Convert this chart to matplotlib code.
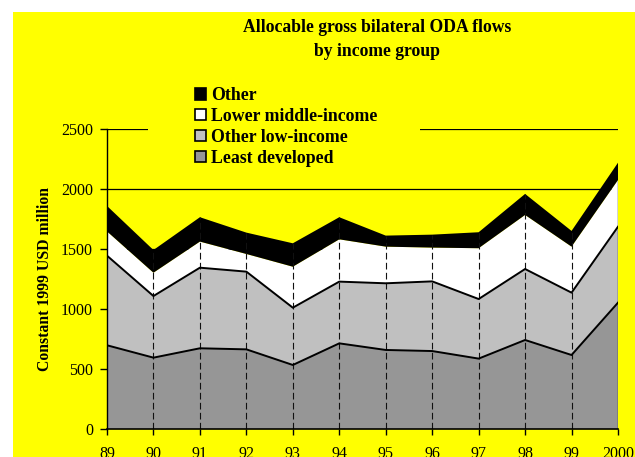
import matplotlib
matplotlib.use("Agg")
import matplotlib.pyplot as plt
from matplotlib.patches import Rectangle, Patch
import numpy as np

# Allocable gross bilateral ODA, constant 1999 USD million
years = ["89", "90", "91", "92", "93", "94", "95", "96", "97", "98", "99", "2000"]
least_developed = [697, 594, 672, 663, 533, 713, 658, 649, 586, 741, 616, 1052]
other_low_income = [746, 513, 671, 647, 477, 514, 555, 580, 496, 591, 519, 632]
lower_middle_income = [202, 194, 217, 147, 341, 352, 305, 281, 423, 450, 383, 389]
other = [212, 189, 203, 178, 195, 184, 92, 108, 133, 175, 131, 144]

series_labels = ["Least developed", "Other low-income", "Lower middle-income", "Other"]
series_colors = ["#969696", "#c0c0c0", "#ffffff", "#000000"]

YELLOW = "#ffff00"
SERIF = ["Liberation Serif", "DejaVu Serif"]

fig = plt.figure(figsize=(6.35, 4.57), dpi=100)
fig.patch.set_facecolor("white")
# yellow chart area
bg = Rectangle((13 / 635, 0), 1 - 13 / 635, 1 - 12 / 457,
               transform=fig.transFigure, facecolor=YELLOW,
               edgecolor="none", zorder=-10)
fig.add_artist(bg)

ax = fig.add_axes([107 / 635, 28 / 457, 511 / 635, 300.3 / 457])
ax.set_facecolor(YELLOW)
x = np.arange(len(years))

data = np.vstack([least_developed, other_low_income, lower_middle_income, other])
ax.stackplot(x, data, colors=series_colors, linewidth=0, zorder=2)

cum = np.cumsum(data, axis=0)
ax.plot(x, cum[0], color="black", lw=1.4, zorder=4)
ax.plot(x, cum[1], color="black", lw=1.4, zorder=4)

# drop lines from the total down to the axis
for i in x[1:-1]:
    ax.plot([i, i], [0, cum[3][i]], color="#111111", lw=0.8,
            dashes=(6, 3), zorder=3)
ax.plot([x[-1], x[-1]], [0, cum[2][-1]], color="#222222", lw=1.0, zorder=3)

ax.set_xlim(0, len(years) - 1)
ax.set_ylim(0, 2500)
ax.set_yticks(np.arange(0, 2501, 500))
ax.set_xticks(x)
ax.set_xticklabels(years)
ax.set_axisbelow(True)
ax.yaxis.grid(True, color="black", lw=0.9)
ax.xaxis.grid(False)

for side in ["top", "right"]:
    ax.spines[side].set_visible(False)
ax.spines["left"].set_linewidth(1.0)
ax.spines["bottom"].set_linewidth(1.2)
ax.spines["left"].set_zorder(5)
ax.spines["bottom"].set_zorder(5)

ax.tick_params(axis="y", direction="out", length=5, width=1, pad=5,
               labelsize=11.5)
ax.tick_params(axis="x", direction="out", length=4, width=1, pad=8,
               labelsize=11.5)
for lab in ax.get_xticklabels() + ax.get_yticklabels():
    lab.set_family(SERIF)

ax.set_ylabel("Constant 1999 USD million", family=SERIF, fontweight="bold",
              fontsize=11.3, va="center")
ax.yaxis.set_label_coords(-62 / 511, 0.5)

# backing behind the legend
ax.add_patch(Rectangle((0.080, 0.86), 0.533, 0.32, transform=ax.transAxes,
                       facecolor=YELLOW, edgecolor="none", zorder=6,
                       clip_on=False))

handles = [Patch(facecolor=c, edgecolor="black", linewidth=1.2)
           for c in series_colors[::-1]]
leg = fig.legend(handles, series_labels[::-1], loc="upper left",
                 bbox_to_anchor=(195 / 635, 1 - 87 / 457), frameon=False,
                 prop={"family": SERIF, "weight": "bold", "size": 12.8},
                 handlelength=0.62, handleheight=0.62, handletextpad=0.3,
                 labelspacing=0.22, borderaxespad=0, borderpad=0)
leg.set_zorder(7)

fig.text(377 / 635, 1 - 28 / 457, "Allocable gross bilateral ODA flows",
         ha="center", va="center", family=SERIF, fontweight="bold", fontsize=12.7)
fig.text(377 / 635, 1 - 52 / 457, "by income group",
         ha="center", va="center", family=SERIF, fontweight="bold", fontsize=12.7)

fig.savefig("out.png", dpi=100, facecolor=fig.get_facecolor())
